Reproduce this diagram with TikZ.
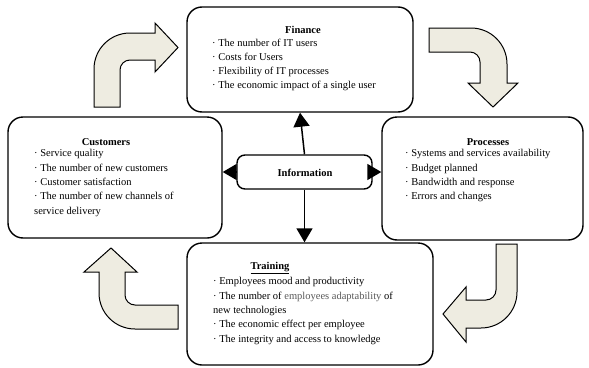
\documentclass[tikz,border=0pt]{standalone}
\usepackage{fontspec}
\setmainfont{Liberation Serif}
\usetikzlibrary{arrows.meta}
\definecolor{arrowfill}{HTML}{EEECE1}
\begin{document}
\begin{tikzpicture}[x=1pt,y=-1pt,
  box/.style={draw, line width=1.4pt, rounded corners=15pt, fill=white, inner sep=0pt},
  titletext/.style={font=\fontsize{10.5}{13}\selectfont\bfseries, inner sep=0pt},
  listtext/.style={font=\fontsize{10.5}{14.3}\selectfont, align=left, inner sep=0pt, anchor=north west},
  conn/.style={line width=1.5pt, -{Triangle[length=14pt,width=16pt]}},
  blockarrow/.style={draw, line width=1pt, fill=arrowfill, line join=miter}]
\useasboundingbox (0,0) rectangle (589,367);

% block arrows
\path[blockarrow] (94,107) -- (94,69) .. controls (94,49.1) and (110.1,33) .. (130,33)
  -- (155,33) -- (155,23) -- (178,47.5) -- (155,72) -- (155,60) -- (130,60)
  .. controls (124.5,60) and (120,64.5) .. (120,70) -- (120,107) -- cycle;
\path[blockarrow] (429,28) -- (471,28) .. controls (490.9,28) and (507,44.1) .. (507,64)
  -- (507,83) -- (518,83) -- (493,107) -- (468,83) -- (480,83) -- (480,62)
  .. controls (480,56.5) and (475.5,52) .. (470,52) -- (429,52) -- cycle;
\path[blockarrow] (496,244) -- (517,244) -- (517,292) .. controls (517,311.9) and (500.9,328) .. (481,328)
  -- (466,328) -- (466,342) -- (443,314) -- (466,287) -- (466,300) -- (486,300)
  .. controls (491.5,300) and (496,295.5) .. (496,290) -- cycle;
\path[blockarrow] (178,329) -- (135,329) .. controls (115.1,329) and (99,312.9) .. (99,293)
  -- (99,272) -- (84,272) -- (111,248) -- (137,272) -- (125,272) -- (125,295)
  .. controls (125,300.5) and (129.5,305) .. (135,305) -- (178,305) -- cycle;

% boxes
\node[box, minimum width=226pt, minimum height=105pt] (fin) at (300,59.5) {};
\node[box, minimum width=214pt, minimum height=121pt] (cus) at (115,177.5) {};
\node[box, minimum width=201pt, minimum height=123pt] (pro) at (482.5,178.5) {};
\node[box, minimum width=246pt, minimum height=122pt] (tra) at (310,304) {};
\node[box, minimum width=135pt, minimum height=34pt, rounded corners=8pt] (inf) at (304.5,172) {};

% connectors
\draw[conn] (inf.north) -- (fin.south);
\draw[conn] (inf.south) -- (tra.north -| inf.south);
\draw[conn] (inf.west) -- (cus.east |- inf.west);
\draw[conn] (inf.east) -- (pro.west |- inf.east);

% texts
\node[titletext] (fint) at (303,30) {Finance};
\node[listtext] (finl) at (212,38.5) {· The number of IT users\\· Costs for Users\\· Flexibility of IT processes\\· The economic impact of a single user};

\node[titletext] (cust) at (106,142) {Customers};
\node[listtext] (cusl) at (34,149.5) {· Service quality\\· The number of new customers\\· Customer satisfaction\\· The number of new channels of\\service delivery};

\node[titletext] (prot) at (488,142) {Processes};
\node[listtext] (prol) at (405,149.5) {· Systems and services availability\\· Budget planned\\· Bandwidth and response\\· Errors and changes};

\node[titletext] (trat) at (270,268) {\underline{Training}};
\node[listtext] (tral) at (213,277.5) {· Employees mood and productivity\\· The number of \textcolor{black!65}{employees adaptability} of\\new technologies\\· The economic effect per employee\\· The integrity and access to knowledge};

\node[titletext] (inft) at (305,173) {Information};
\end{tikzpicture}
\end{document}
